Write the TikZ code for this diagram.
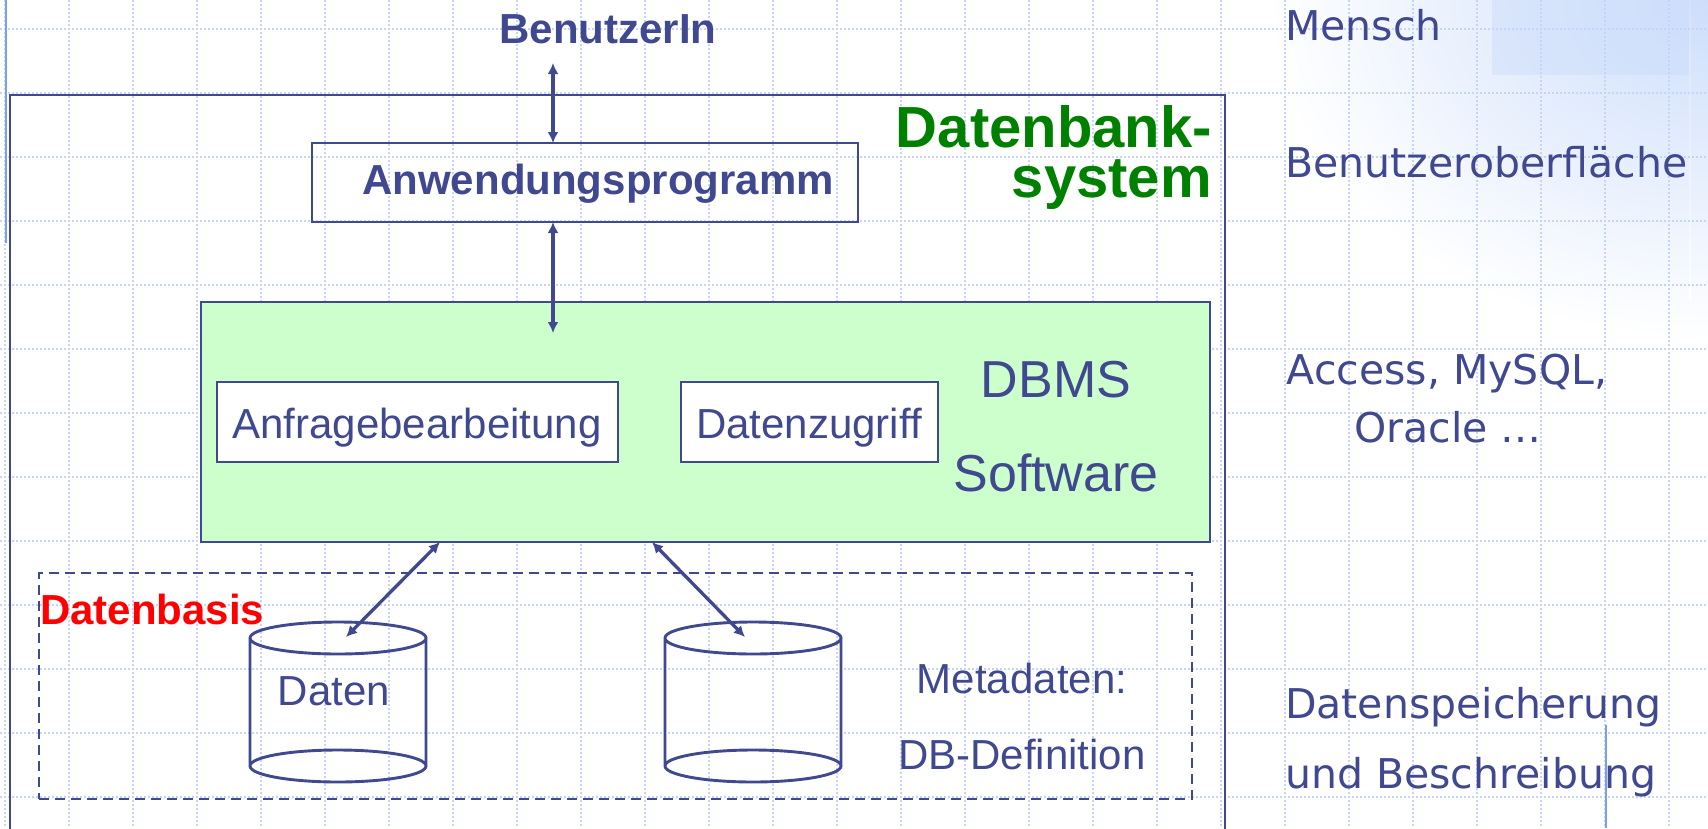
\documentclass[tikz,border=0pt]{standalone}
\usepackage{fontspec}
\setmainfont{Liberation Sans}
\newfontfamily\sidefont{DejaVu Sans}
\usetikzlibrary{arrows.meta}

\definecolor{ink}{RGB}{64,72,144}
\definecolor{gridblue}{RGB}{196,212,250}
\definecolor{edgeblue}{RGB}{122,156,242}
\definecolor{mintfill}{RGB}{204,255,204}
\definecolor{titlegreen}{RGB}{0,128,0}
\definecolor{skyblue}{RGB}{205,222,251}

\tikzset{
  boxshape/.style={draw=ink, line width=2.9pt, inner sep=0pt, outer sep=0pt, anchor=north west},
  frameline/.style={draw=ink, line width=2.9pt},
  link/.style={draw=ink, line width=3.3pt, {Latex[length=11pt,width=11pt]}-{Latex[length=11pt,width=11pt]}},
  lbl/.style={text=ink, inner sep=0pt, anchor=base, font=\fontsize{42}{50}\selectfont},
  boldlbl/.style={text=ink, inner sep=0pt, anchor=base, font=\bfseries\fontsize{42}{50}\selectfont},
  biglbl/.style={text=ink, inner sep=0pt, anchor=base, font=\fontsize{52}{60}\selectfont},
  titlelbl/.style={text=titlegreen, inner sep=0pt, align=right, font=\bfseries\fontsize{58}{50}\selectfont},
  sidetext/.style={text=ink, inner sep=0pt, anchor=base west, font=\sidefont\fontsize{41}{58}\selectfont},
}

\begin{document}
\begin{tikzpicture}[x=1pt,y=-1pt]
\useasboundingbox (0,0) rectangle (1708,828);
\begin{scope}
\clip (0,0) rectangle (1708,828);

% soft blue haze in the upper right corner
\shade[inner color=skyblue, outer color=white] (1708,0) ellipse [x radius=440pt, y radius=340pt];
\fill[skyblue, opacity=0.5] (1492,0) rectangle (1690,75);
\shade[top color=edgeblue!30, bottom color=white] (1689.5,0) rectangle (1690.5,300);

% dotted background grid
\draw[gridblue, line width=1.5pt, dash pattern=on 2pt off 2pt]
  \foreach \gx in {5,69,...,1669} { (\gx,0) -- (\gx,828) }
  \foreach \gy in {29,93,...,797} { (0,\gy) -- (1708,\gy) };

% accent lines
\draw[edgeblue, line width=2pt] (6,0) -- (6,243);
\draw[edgeblue, line width=2pt] (1606,725) -- (1606,828);

% database system frame
\node[boxshape, minimum width=1215pt, minimum height=780pt] (dbs) at (10,95) {};
\node[titlelbl, anchor=base east] (dbstitle) at (1212,197) {Datenbank-\\system};

% user and application
\node[boldlbl] (user) at (608,43) {BenutzerIn};
\node[boxshape, minimum width=546pt, minimum height=79pt] (app) at (312,143) {};
\node[boldlbl] (applbl) at (598,194) {Anwendungsprogramm};

% DBMS software block
\node[boxshape, fill=mintfill, minimum width=1009pt, minimum height=240pt] (dbms) at (201,302) {};
\node[boxshape, fill=white, minimum width=401pt, minimum height=80pt] (query) at (217,382) {};
\node[lbl] (querylbl) at (417,438) {Anfragebearbeitung};
\node[boxshape, fill=white, minimum width=257pt, minimum height=80pt] (access) at (681,382) {};
\node[lbl] (accesslbl) at (809,438) {Datenzugriff};
\node[biglbl] (dbmsA) at (1056,397) {DBMS};
\node[biglbl] (dbmsB) at (1056,491) {Software};

% data base (dashed) with two stores
\node[boxshape, dash pattern=on 10pt off 6pt, line width=2.6pt, minimum width=1153pt, minimum height=226pt] (base) at (39,573) {};
\node[text=red, inner sep=0pt, anchor=base west, font=\bfseries\fontsize{42}{50}\selectfont] (baselbl) at (40,624) {Datenbasis};

\draw[frameline] (338,638) ellipse [x radius=88pt, y radius=16pt]
                 (338,766) ellipse [x radius=88pt, y radius=16pt]
                 (250,638) -- (250,766) (426,638) -- (426,766);
\node[lbl] (datalbl) at (334,705) {Daten};

\draw[frameline] (753,638) ellipse [x radius=88pt, y radius=16pt]
                 (753,766) ellipse [x radius=88pt, y radius=16pt]
                 (665,638) -- (665,766) (841,638) -- (841,766);
\node[lbl] (metaA) at (1022,693) {Metadaten:};
\node[lbl] (metaB) at (1022,769) {DB-Definition};

% connectors
\coordinate (userport) at (553,63);
\coordinate (dbmsport) at (553,333);
\coordinate (storeA) at (346,637);
\coordinate (storeB) at (745,637);
\draw[link] (userport) -- ([xshift=-32pt]app.north);
\draw[link] ([xshift=-32pt]app.south) -- (dbmsport);
\draw[link] ([xshift=239pt]dbms.south west) -- (storeA);
\draw[link] ([xshift=451pt]dbms.south west) -- (storeB);

% layer names on the right
\node[sidetext] (layer1) at (1285,40) {Mensch};
\node[sidetext] (layer2) at (1285,177) {Benutzeroberfläche};
\node[sidetext, anchor=base] (layer3a) at (1447,384) {Access, MySQL,};
\node[sidetext, anchor=base] (layer3b) at (1448,442) {Oracle …};
\node[sidetext] (layer4a) at (1285,718) {Datenspeicherung};
\node[sidetext] (layer4b) at (1285,788) {und Beschreibung};
\end{scope}
\end{tikzpicture}
\end{document}
